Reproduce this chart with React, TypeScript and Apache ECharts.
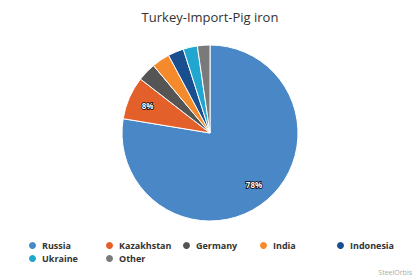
import React, { useEffect, useRef } from "react";
import * as echarts from "echarts";

const categories = ["Russia", "Kazakhstan", "Germany", "India", "Indonesia", "Ukraine", "Other"];
const values = [77.6, 7.9, 3.4, 3.3, 2.9, 2.6, 2.3];
const colors = ["#4a87c7", "#e4602a", "#555555", "#f58a2c", "#194f8f", "#21a6cf", "#7a7a7a"];
const titleText = "Turkey-Import-Pig iron";
const creditText = "SteelOrbis";

export default function App() {
  const ref = useRef<HTMLDivElement>(null);
  useEffect(() => {
    if (!ref.current) return;
    const chart = echarts.init(ref.current, null, { renderer: "svg" });
    const data = categories.map((name, i) => ({
      name,
      value: values[i],
      itemStyle: { color: colors[i] },
    }));
    const labelData = categories.map((name, i) => ({
      name,
      value: values[i],
      itemStyle: { color: "rgba(0,0,0,0)", borderWidth: 0 },
    }));
    chart.setOption({
      animation: false,
      title: {
        text: titleText,
        left: "center",
        top: 5,
        textStyle: { fontFamily: "Open Sans", fontSize: 13, fontWeight: "normal", color: "#333" },
      },
      legend: {
        data: categories.map((name, i) => ({ name, itemStyle: { color: colors[i] } })),
        left: 27,
        top: 240,
        width: 395,
        padding: 0,
        orient: "horizontal",
        icon: "circle",
        itemWidth: 9,
        itemHeight: 9,
        itemGap: 2,
        textStyle: {
          fontFamily: "Open Sans",
          fontSize: 9,
          fontWeight: "bold",
          color: "#333",
          width: 60,
          lineHeight: 9,
        },
      },
      graphic: [
        {
          type: "text",
          right: 8,
          bottom: 4,
          style: { text: creditText, fontSize: 7, fill: "#aaa", fontFamily: "Open Sans" },
        },
      ],
      series: [
        {
          type: "pie",
          center: [210, 133],
          radius: [0, 88],
          startAngle: 90,
          clockwise: true,
          data,
          label: { show: false },
          labelLine: { show: false },
          itemStyle: { borderColor: "#fff", borderWidth: 1 },
          emphasis: { disabled: true },
        },
        {
          type: "pie",
          center: [210, 133],
          radius: [42, 88],
          startAngle: 90,
          clockwise: true,
          silent: true,
          data: labelData,
          label: {
            show: true,
            position: "inside",
            formatter: (p: any) => (p.percent >= 5 ? Math.round(p.percent) + "%" : ""),
            fontFamily: "Open Sans",
            fontSize: 8,
            fontWeight: "bold",
            color: "#fff",
            textBorderColor: "#000",
            textBorderWidth: 1.5,
          },
          labelLine: { show: false },
          emphasis: { disabled: true },
        },
      ],
    });
    return () => chart.dispose();
  }, []);
  return (
    <div
      ref={ref}
      style={{ position: "fixed", left: 0, top: 0, width: 420, height: 280, background: "#fff" }}
    />
  );
}
